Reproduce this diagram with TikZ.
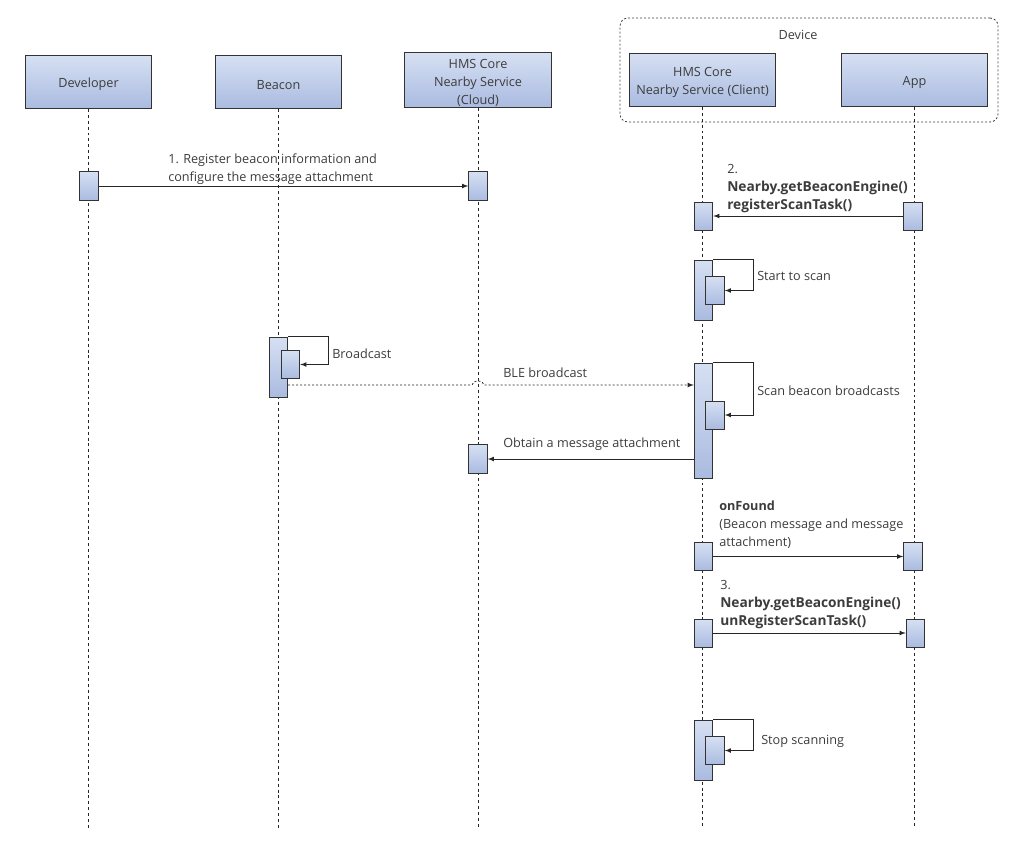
\documentclass[tikz,border=0pt]{standalone}
\usepackage{fontspec}
\setmainfont{Open Sans}
\usetikzlibrary{shapes, arrows}

\definecolor{boxtop}{RGB}{214,224,243}
\definecolor{boxbot}{RGB}{170,187,224}
\definecolor{txtgray}{RGB}{60,60,60}

\newcommand{\callname}[1]{{\fontsize{10.3}{14.5}\selectfont\bfseries #1}}
\newcommand{\partstrut}{\rule{0pt}{11pt}}

\tikzset{
  part/.style={draw=black!80, line width=0.6pt, top color=boxtop, bottom color=boxbot,
    minimum width=95pt, minimum height=40pt, align=center, text=txtgray, inner sep=1pt},
  act/.style={draw=black!80, line width=0.6pt, top color=boxtop, bottom color=boxbot,
    minimum width=14pt, inner sep=0pt},
  lifeline/.style={black!85, line width=0.6pt, dash pattern=on 2.2pt off 2.2pt},
  devframe/.style={draw=black!75, line width=0.6pt, dash pattern=on 1.5pt off 1.5pt, rounded corners=6pt},
  msg/.style={-latex, black!85, line width=0.6pt},
  msgdot/.style={-latex, black!85, line width=0.6pt, dash pattern=on 1.5pt off 1.5pt},
  lbl/.style={text=txtgray, align=left, inner sep=0pt}
}

\begin{document}
\begin{tikzpicture}[x=0.75pt, y=-0.75pt, font=\fontsize{9.5}{13.5}\selectfont]
        \useasboundingbox (0,0) rectangle (1012,857);
        \coordinate (bottom) at (0,828);
        \coordinate (bleY) at (0,385);

        % Device frame
        \node[devframe, minimum width=283.5pt, minimum height=78pt] (device) at (809,70) {};
        \node[lbl] (devlbl) at (798,35) {Device};

        % Participants
        \node[part] (dev) at (88.5,82) {\partstrut Developer};
        \node[part] (bc) at (278.5,82) {\partstrut Beacon};
        \node[part, minimum width=110pt] (cl) at (478,80) {\partstrut HMS Core\\Nearby Service\\(Cloud)};
        \node[part, minimum width=109pt] (cli) at (702.5,80) {\partstrut HMS Core\\Nearby Service (Client)};
        \node[part, minimum width=110pt] (app) at (914.5,80) {\partstrut App};

        % Lifelines
        \draw[lifeline] (dev.south) -- (dev.south |- bottom);
        \draw[lifeline] (bc.south) -- (bc.south |- bottom);
        \draw[lifeline] (cl.south) -- (cl.south |- bottom);
        \draw[lifeline] (cli.south) -- (cli.south |- bottom);
        \draw[lifeline] (app.south) -- (app.south |- bottom);

        % 1. Register
        \node[act, minimum height=21.5pt] (devA) at (89,186) {};
        \node[act, minimum height=21.5pt] (clA1) at (478,186) {};
        \draw[msg] (devA.east) -- (clA1.west);
        \node[lbl, anchor=west] (m1) at (168,169) {1. Register beacon information and\\configure the message attachment};

        % 2. registerScanTask
        \node[act, minimum height=21pt] (cliA1) at (703.5,216) {};
        \node[act, minimum height=21pt] (appA1) at (913,216) {};
        \draw[msg] (appA1.west) -- (cliA1.east);
        \node[lbl, anchor=north west] (m2) at (727,164) {2.\\\callname{Nearby.getBeaconEngine()}\\\callname{registerScanTask()}};

        % Start to scan
        \node[act, minimum height=45pt] (cliA2) at (703.5,290) {};
        \node[act, minimum height=21.5pt] (cliN2) at (715,290.5) {};
        \draw[msg] (cliA2.north east) -- ++(40,0) |- (cliN2.east);
        \node[lbl, anchor=west] (s1) at (757,276) {Start to scan};

        % Broadcast
        \node[act, minimum height=45pt] (bcA) at (278.5,367) {};
        \node[act, minimum height=21.5pt] (bcN) at (290.5,364.5) {};
        \draw[msg] (bcA.north east) -- ++(40,0) |- (bcN.east);
        \node[lbl, anchor=west] (b1) at (332,354) {Broadcast};

        % Scan beacon broadcasts
        \node[act, minimum height=86.25pt] (cliA3) at (703.5,420.5) {};
        \node[act, minimum height=21pt] (cliN3) at (715,415) {};
        \draw[msg] (cliA3.north east) -- ++(40,0) |- (cliN3.east);
        \node[lbl, anchor=west] (s2) at (757,391) {Scan beacon broadcasts};

        % BLE broadcast
        \draw[msgdot] (bcA.east |- bleY) -- ([xshift=-4.5pt]cl.south |- bleY)
          arc[start angle=180, end angle=360, x radius=6, y radius=4] -- (cliA3.west |- bleY);
        \node[lbl, anchor=west] (ble) at (503,373) {BLE broadcast};

        % Obtain a message attachment
        \node[act, minimum height=21.5pt] (clA2) at (478,459) {};
        \draw[msg] (cliA3.west |- clA2.east) -- (clA2.east);
        \node[lbl, anchor=west] (ob) at (503,444) {Obtain a message attachment};

        % onFound
        \node[act, minimum height=20.5pt] (cliA4) at (703.5,556.5) {};
        \node[act, minimum height=20.5pt] (appA4) at (913,556.5) {};
        \draw[msg] (cliA4.east) -- (appA4.west);
        \node[lbl, anchor=north west] (of) at (719,501) {\textbf{onFound}\\(Beacon message and message\\attachment)};

        % 3. unRegisterScanTask
        \node[act, minimum height=21pt] (cliA5) at (703.5,633) {};
        \node[act, minimum height=21pt] (appA5) at (915.5,633) {};
        \draw[msg] (cliA5.east) -- (appA5.west);
        \node[lbl, anchor=north west] (m3) at (720,580) {3.\\\callname{Nearby.getBeaconEngine()}\\\callname{unRegisterScanTask()}};

        % Stop scanning
        \node[act, minimum height=45pt] (cliA6) at (703.5,750) {};
        \node[act, minimum height=21.5pt] (cliN6) at (715,750.5) {};
        \draw[msg] (cliA6.north east) -- ++(40,0) |- (cliN6.east);
        \node[lbl, anchor=west] (s3) at (761,741) {Stop scanning};
\end{tikzpicture}
\end{document}
